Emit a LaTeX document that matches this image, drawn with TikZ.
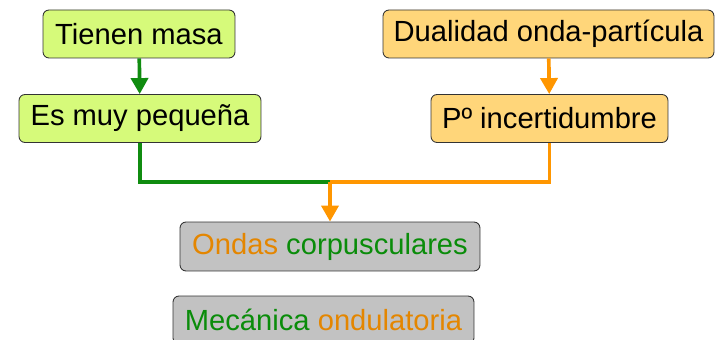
\documentclass[tikz,border=0pt]{standalone}
\usepackage{fontspec}
\setmainfont{Liberation Sans}
\usetikzlibrary{arrows.meta,positioning}
\definecolor{boxgreen}{RGB}{214,250,122}
\definecolor{boxorange}{RGB}{255,214,122}
\definecolor{boxgray}{RGB}{194,194,194}
\definecolor{linegreen}{RGB}{16,140,16}
\definecolor{lineorange}{RGB}{255,150,0}
\definecolor{txtgreen}{RGB}{10,140,10}
\definecolor{txtorange}{RGB}{228,134,0}
\begin{document}
\begin{tikzpicture}[
            x=0.02cm, y=-0.02cm,
            font=\fontsize{16.6}{19}\selectfont,
            concept/.style={rectangle, rounded corners=0.12cm, minimum height=0.96cm, inner sep=0pt, text centered, draw=black!80, line width=0.5pt},
            greenbox/.style={concept, fill=boxgreen},
            orangebox/.style={concept, fill=boxorange},
            graybox/.style={concept, fill=boxgray},
            greenline/.style={draw=linegreen, line width=2.1pt},
            orangeline/.style={draw=lineorange, line width=2.1pt},
            tip/.style={-{Triangle[length=0.32cm, width=0.34cm]}}
        ]
        \useasboundingbox (0,0) rectangle (715,340);

        % Nodos
        \node (masa) [greenbox, minimum width=3.84cm] at (139,34) {Tienen masa};
        \node (pequena) [greenbox, minimum width=4.84cm] at (140,118.5) {Es muy pequeña};

        \node (dualidad) [orangebox, minimum width=6.62cm] at (548.5,34) {Dualidad onda-partícula};
        \node (incert) [orangebox, minimum width=4.74cm] at (549.5,118.5) {Pº incertidumbre};

        \node (ondas) [graybox, minimum width=6cm, minimum height=0.98cm] at (330,246.5) {{\color{txtorange}Ondas} {\color{txtgreen}corpusculares}};
        \node (mecanica) [graybox, minimum width=6.02cm] at (323.5,320) {{\color{txtgreen}Mecánica} {\color{txtorange}ondulatoria}};

        \coordinate (union) at (330,182);

        % Conexiones
        \draw [greenline, tip] (masa) -- (pequena);
        \draw [orangeline, tip] (dualidad) -- (incert);

        \draw [greenline] (pequena.south) |- (union);
        \draw [orangeline] (incert.south) |- (union);
        \draw [orangeline, tip] (union) -- (ondas);

    \end{tikzpicture}
\end{document}
